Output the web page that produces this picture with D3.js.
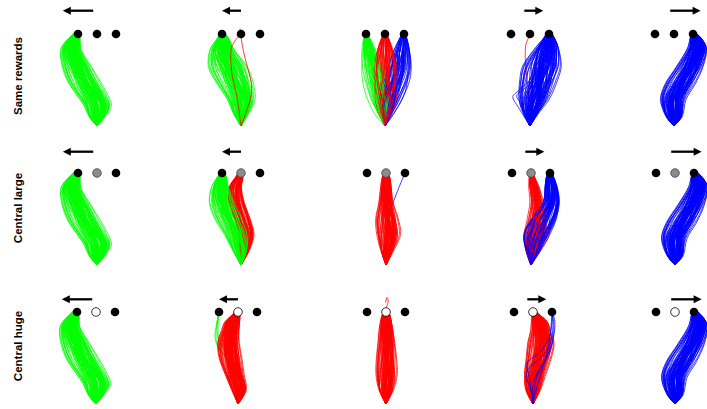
<!DOCTYPE html>
<html><head><meta charset="utf-8">
<script src="https://cdn.jsdelivr.net/npm/d3@7"></script>
<style>body{margin:0;background:#fff}svg{display:block}</style>
</head><body><svg id="c" width="707" height="409"></svg>
<script>
// ---------- data ----------
const rowLabels = ["Same rewards", "Central large", "Central huge"];
const targetX = [-1, 0, 1];                 // left, centre, right reward location
const centreDotKind = ["black", "gray", "white"];
const arrowSpans = [[-0.2, -1.8], [0, -1], null, [-0.3, 0.7], [-0.2, 1.4]];

// jitter of individual trajectories inside a bundle
const jitterA = [-0.95,0.12,0.63,-0.41,0.88,-0.07,0.35,-0.76,0.51,-0.22,0.97,-0.58,0.04,0.71,-0.33,0.26,-0.89,0.45,-0.14,0.82,-0.66,0.19,0.57,-0.48,0.93,-0.02,0.38,-0.81,0.67,-0.27,0.09,-0.71,0.78,-0.37,0.3,-0.99,0.54,-0.11,0.85,-0.53];
const jitterB = [0.42,-0.68,0.15,0.9,-0.3,0.61,-0.85,0.05,-0.47,0.77,-0.18,0.33,-0.92,0.58,0.21,-0.62,0.7,-0.09,0.98,-0.39,0.27,-0.75,0.49,0.01,-0.56,0.83,-0.24,0.64,-0.97,0.11,0.74,-0.44,0.36,-0.8,0.52,0.17,-0.69,0.92,-0.16,0.29];

// bundle profiles: [progress y, centre x, half width]
const bLeftS     = [[0,0,0],[0.1,0,0.4],[0.22,0.03,0.62],[0.35,-0.3,0.65],[0.48,-0.68,0.65],[0.65,-1.07,0.6],[0.84,-1.37,0.47],[0.95,-1.2,0.3],[1.03,-1,0.05]];
const bRightS    = [[0,0,0],[0.1,0,0.4],[0.29,-0.05,0.55],[0.45,0.3,0.6],[0.65,0.84,0.55],[0.85,1.22,0.45],[0.95,1.15,0.3],[1.03,1,0.05]];
const bLeftNear  = [[0,0,0],[0.15,0,0.4],[0.29,0,0.6],[0.5,-0.4,0.75],[0.65,-0.7,0.8],[0.84,-1.0,0.55],[0.95,-0.95,0.3],[1.03,-1,0.05]];
const bRightNear = [[0,0,0],[0.15,0.05,0.4],[0.29,0.2,0.65],[0.5,0.45,0.75],[0.65,0.63,0.8],[0.85,0.9,0.55],[0.95,1.0,0.3],[1.03,1,0.05]];
const fanLeft    = [[0,0,0],[0.15,-0.1,0.3],[0.3,-0.25,0.45],[0.6,-0.6,0.45],[0.85,-0.88,0.3],[1.02,-1,0.05]];
const fanMid     = [[0,0,0],[0.15,0,0.35],[0.3,0,0.5],[0.6,0,0.55],[0.85,0,0.35],[1.02,0,0.05]];
const fanRight   = [[0,0,0],[0.15,0.1,0.3],[0.3,0.26,0.45],[0.6,0.7,0.5],[0.85,0.9,0.35],[1.02,1,0.05]];
const large2Green= [[0,0,0],[0.15,-0.05,0.35],[0.33,-0.26,0.5],[0.5,-0.65,0.55],[0.68,-1.0,0.53],[0.85,-1.1,0.4],[0.97,-1.0,0.2],[1.03,-1,0.05]];
const large2Red  = [[0,0,0],[0.15,0.15,0.25],[0.33,0.26,0.35],[0.5,0.05,0.35],[0.68,-0.24,0.35],[0.85,-0.3,0.3],[0.95,-0.1,0.2],[1.03,0,0.05]];
const large3Red  = [[0,0,0],[0.15,0.05,0.3],[0.33,0.13,0.5],[0.5,0.05,0.45],[0.68,0,0.3],[0.85,0,0.25],[0.95,0,0.2],[1.03,0,0.05]];
const large4Red  = [[0,0,0],[0.15,0.1,0.35],[0.33,0.26,0.55],[0.5,0.35,0.45],[0.68,0.3,0.3],[0.85,0.15,0.25],[0.95,0.05,0.15],[1.03,0,0.05]];
const large4Blue = [[0,0,0],[0.15,0.1,0.35],[0.33,0.26,0.6],[0.5,0.65,0.55],[0.68,1.05,0.37],[0.85,1.05,0.3],[0.95,1.0,0.2],[1.03,1,0.05]];
const huge2Red   = [[0,0,0],[0.15,0.05,0.35],[0.32,-0.18,0.4],[0.5,-0.4,0.45],[0.67,-0.5,0.45],[0.8,-0.4,0.4],[0.89,-0.3,0.37],[0.97,-0.1,0.2],[1.03,0,0.05]];
const huge3Red   = [[0,0,0],[0.15,0,0.35],[0.32,0.02,0.45],[0.5,0.02,0.4],[0.67,0.02,0.35],[0.85,0,0.3],[0.97,0,0.2],[1.03,0,0.05]];
const huge4Red   = [[0,0,0],[0.15,0,0.35],[0.32,0.1,0.45],[0.5,0.3,0.5],[0.67,0.42,0.55],[0.8,0.4,0.45],[0.89,0.34,0.4],[0.97,0.15,0.2],[1.03,0,0.05]];

// single trajectories: [x, y]
const same2Red = [
  [[0,0],[0.5,0.3],[0.55,0.45],[0.2,0.75],[0.05,0.9],[-0.05,1.06]],
  [[0,0],[-0.2,0.3],[-0.5,0.6],[-0.5,0.85],[-0.3,0.93],[0,1]]
];
const same3Out = [
  {c:"G", p:[[0,0],[-0.6,0.15],[-1.15,0.45],[-1.2,0.75],[-1,1]]},
  {c:"B", p:[[0,0],[0.8,0.25],[1.35,0.55],[1.3,0.8],[1,1]]},
  {c:"B", p:[[0,0],[0.5,0.15],[1.1,0.4],[1.2,0.75],[1,1]]}
];
const same4Red = [[[0,0],[-0.1,0.4],[-0.2,0.6],[-0.25,0.8],[-0.2,0.9],[-0.05,0.97],[0,1]]];
const same4BlueOut = [
  [[0,0],[-0.6,0.2],[-0.9,0.32],[-0.5,0.4],[0.2,0.55],[0.7,0.8],[1,1]],
  [[0,0],[-0.5,0.25],[-0.7,0.33],[-0.2,0.42],[0.5,0.6],[0.9,0.85],[1,1]]
];
const large3Blue = [[[0,0],[0.05,0.2],[0.1,0.45],[0.25,0.6],[0.6,0.8],[1,1]]];
const huge2Green = [
  [[0,0],[0.15,0.15],[0.15,0.28],[-0.2,0.4],[-0.7,0.52],[-1.1,0.65],[-1.15,0.8],[-1.05,0.95],[-1,1]],
  [[0,0],[0.25,0.18],[0.2,0.3],[-0.1,0.42],[-0.6,0.55],[-1.0,0.68],[-1.1,0.82],[-1,1]],
  [[0,0],[0.1,0.12],[0.05,0.3],[-0.3,0.42],[-0.8,0.54],[-1.2,0.7],[-1.1,0.9],[-1,1]],
  [[0,0],[0.3,0.2],[0.1,0.35],[-0.45,0.46],[-0.9,0.6],[-1.05,0.78],[-1,1]]
];
const huge3Curl = [[[0,0.97],[0.03,1.05],[0.12,1.12],[0.05,1.16],[-0.02,1.1]]];
const huge4Blue = [
  [[0,0],[0.2,0.3],[0.6,0.45],[1.0,0.65],[1.1,0.85],[1,1]],
  [[0,0],[-0.1,0.15],[-0.35,0.3],[-0.2,0.4],[0.4,0.5],[0.9,0.65],[1.05,0.85],[1,1]],
  [[0,0],[0.1,0.1],[0.3,0.25],[0.5,0.4],[0.8,0.6],[0.95,0.85],[1,1]],
  [[0,0],[0.0,0.2],[0.25,0.35],[0.7,0.5],[1.05,0.7],[1.15,0.9],[1,1]],
  [[0,0],[-0.2,0.3],[-0.3,0.45],[0.3,0.55],[0.85,0.72],[1.0,0.9],[1,1]]
];

// panel contents: row -> column
const panels = [
  [
    {bundles:[{p:bLeftS,c:"G",n:90}]},
    {bundles:[{p:bLeftNear,c:"G",n:90}], over:same2Red.map(p=>({c:"R",p}))},
    {bundles:[{p:fanLeft,c:"G",n:40},{p:fanMid,c:"R",n:45},{p:fanRight,c:"B",n:40}], over:same3Out},
    {under:same4Red.map(p=>({c:"R",p})), bundles:[{p:bRightNear,c:"B",n:90}], over:same4BlueOut.map(p=>({c:"B",p}))},
    {bundles:[{p:bRightS,c:"B",n:90}]}
  ],
  [
    {bundles:[{p:bLeftS,c:"G",n:90}]},
    {bundles:[{p:large2Green,c:"G",n:70},{p:large2Red,c:"R",n:50}]},
    {under:large3Blue.map(p=>({c:"B",p})), bundles:[{p:large3Red,c:"R",n:75}]},
    {bundles:[{p:large4Red,c:"R",n:50},{p:large4Blue,c:"B",n:60}]},
    {bundles:[{p:bRightS,c:"B",n:90}]}
  ],
  [
    {bundles:[{p:bLeftS,c:"G",n:90}]},
    {under:huge2Green.map(p=>({c:"G",p})), bundles:[{p:huge2Red,c:"R",n:90}]},
    {bundles:[{p:huge3Red,c:"R",n:75}], over:huge3Curl.map(p=>({c:"R",p}))},
    {bundles:[{p:huge4Red,c:"R",n:90}], over:huge4Blue.map(p=>({c:"B",p}))},
    {bundles:[{p:bRightS,c:"B",n:90}]}
  ]
];

// ---------- layout ----------
const colour = {G:"#00ff00", R:"#ff0000", B:"#0000ff"};
const centers = [[97,241,385,530,674],[97,241,386,531,675],[96,238,386,533,675]];
const dotY = [34, 173, 312];
const arrowY = [10.7, 151.7, 299.3];
const unitX = 19, spanY = 92;

const svg = d3.select("#c");
const line = d3.line().curve(d3.curveCatmullRom.alpha(0.5));

rowLabels.forEach((t,r)=>{
  svg.append("text").attr("transform",`translate(22,${[76,208,346][r]}) rotate(-90)`)
    .attr("text-anchor","middle").attr("font-family","Liberation Sans, Arial, sans-serif")
    .attr("font-weight","bold").attr("font-size",11.5).text(t);
});

panels.forEach((row,r)=>{
  row.forEach((pan,c)=>{
    const cx = centers[r][c];
    const x = d3.scaleLinear().domain([-1,1]).range([cx-unitX, cx+unitX]);
    const y = d3.scaleLinear().domain([0,1]).range([dotY[r]+spanY, dotY[r]]);
    const g = svg.append("g");
    const drawPath = (pts,col)=> g.append("path")
      .attr("d", line(pts.map(([px,py])=>[x(px),y(py)])))
      .attr("fill","none").attr("stroke",colour[col]).attr("stroke-width",0.75);
    (pan.under||[]).forEach(o=>drawPath(o.p,o.c));
    const maxN = d3.max(pan.bundles,b=>b.n);
    for(let i=0;i<maxN;i++){
      pan.bundles.forEach((b,k)=>{
        if(i>=b.n) return;
        const a = jitterA[(i+k*11)%40], bb = jitterB[(i*3+7+k*5+Math.floor(i/40)*13)%40];
        const pts = b.p.map(([py,xc,hw])=>{
          const t = Math.min(py,1);
          const mix = (a*(1-t)+bb*t)/Math.sqrt((1-t)*(1-t)+t*t);
          return [xc + hw*mix, py];
        });
        drawPath(pts,b.c);
      });
    }
    (pan.over||[]).forEach(o=>drawPath(o.p,o.c));
    // reward locations
    targetX.forEach((tx,k)=>{
      const kind = k===1 ? centreDotKind[r] : "black";
      g.append("circle").attr("cx",x(tx)).attr("cy",y(1)).attr("r",4.3)
        .attr("fill", kind==="black"?"#000":kind==="gray"?"#8c8c8c":"#fff")
        .attr("stroke", kind==="black"?"none":kind==="gray"?"#444":"#000")
        .attr("stroke-width",0.8);
    });
    // arrow
    const as = arrowSpans[c];
    if(as){
      const x1 = x(as[0]), x2 = x(as[1]), dir = Math.sign(x2-x1), ay = arrowY[r];
      g.append("line").attr("x1",x1).attr("x2",x2-dir*6).attr("y1",ay).attr("y2",ay)
        .attr("stroke","#000").attr("stroke-width",2.3);
      g.append("path").attr("d",`M${x2},${ay} L${x2-dir*8},${ay-4} L${x2-dir*8},${ay+4} Z`).attr("fill","#000");
    }
  });
});
</script></body></html>
